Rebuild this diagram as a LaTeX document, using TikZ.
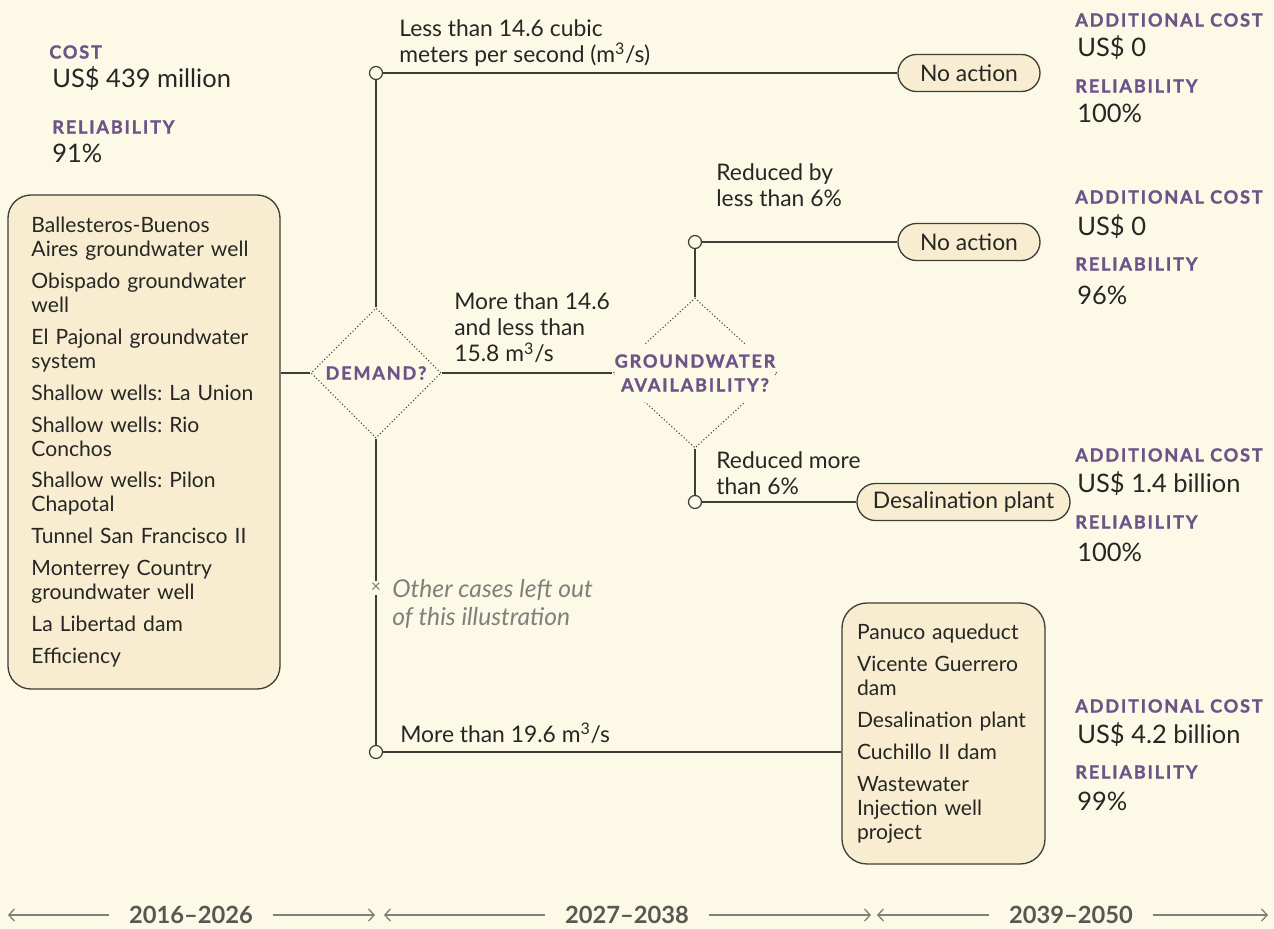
\documentclass[tikz,border=0pt]{standalone}
\usepackage{fontspec}
\setmainfont{Lato}
\newfontfamily\labelfamily{Lato}[LetterSpace=10, BoldFeatures={FakeBold=1.3}]
\usepackage{tikz}
\usetikzlibrary{shapes.geometric, arrows.meta, positioning}
\definecolor{cBg}{RGB}{253,249,231}
\definecolor{cBox}{RGB}{248,237,209}
\definecolor{cPurple}{RGB}{108,84,136}
\definecolor{cInk}{RGB}{38,38,36}
\definecolor{cLine}{RGB}{62,62,56}
\definecolor{cGrey}{RGB}{128,128,122}
\definecolor{cAxis}{RGB}{88,88,82}
\newcommand{\listsize}{\fontsize{12}{13.66}\selectfont}
\newcommand{\branchsize}{\fontsize{13}{14.75}\selectfont}
\newcommand{\notesize}{\fontsize{14}{15.9}\selectfont\itshape}
\newcommand{\valsize}{\fontsize{14.5}{16}\selectfont}
\newcommand{\capsize}{\labelfamily\bfseries\fontsize{10.3}{13.6}\selectfont}
\newcommand{\periodsize}{\bfseries\fontsize{13.5}{15}\selectfont}
\frenchspacing
\tikzset{
	listbox/.style={rectangle, rounded corners=4.6mm, draw=cLine, line width=0.75pt, fill=cBox, align=left, text=cInk, font=\listsize},
	pill/.style   ={rectangle, rounded corners=3.7mm, draw=cLine, line width=0.75pt, fill=cBox, minimum height=7.4mm, inner sep=0pt, text=cInk, font=\branchsize},
	ask/.style    ={diamond, draw=cLine, line width=0.6pt, dash pattern=on 0.6pt off 1.3pt, inner sep=0pt},
	asklbl/.style ={font=\capsize, text=cPurple, align=center, inner xsep=0pt, inner ysep=6pt},
	knot/.style   ={circle, draw=cLine, fill=cBg, line width=0.7pt, minimum size=2.6mm, inner sep=0pt},
	wire/.style   ={draw=cLine, line width=0.7pt},
	headlbl/.style={font=\capsize, text=cPurple, anchor=west, inner sep=0pt},
	val/.style    ={font=\valsize, text=cInk, anchor=west, inner sep=0pt},
	txt/.style    ={font=\branchsize, text=cInk, anchor=west, align=left, inner sep=0pt},
	note/.style   ={font=\notesize, text=cGrey, anchor=west, align=left, inner sep=0pt},
	period/.style ={font=\periodsize, text=cAxis, inner xsep=4mm, inner ysep=0pt},
	span/.style   ={-{Straight Barb[length=1.1mm, width=2.4mm]}, draw=cGrey, line width=0.75pt},
}
\begin{document}
\begin{tikzpicture}[x=0.2mm, y=-0.2mm]
	\fill[cBg] (0,0) rectangle (1274,929);
	% present system
	\node[headlbl] (cost) at (49,52) {COST};
	\node[val] (costv) at (52,79) {US\$ 439 million};
	\node[headlbl] (rel) at (52,127) {RELIABILITY};
	\node[val] (relv) at (52,153) {91\%};
	\node[listbox, text width=45mm, inner xsep=4.7mm, minimum height=98.8mm] (base) at (144,442)
	{Ballesteros-Buenos\\Aires groundwater well\\[4.5pt]
	 Obispado groundwater\\well\\[4.5pt]
	 El Pajonal groundwater\\system\\[4.5pt]
	 Shallow wells: La Union\\[4.5pt]
	 Shallow wells: Rio\\Conchos\\[4.5pt]
	 Shallow wells: Pilon\\Chapotal\\[4.5pt]
	 Tunnel San Francisco II\\[4.5pt]
	 Monterrey Country\\groundwater well\\[4.5pt]
	 La Libertad dam\\[4.5pt]
	 Efficiency};
	% decisions
	\node[ask, minimum width=26mm, minimum height=26mm] (demand) at (376,373) {};
	\node[asklbl] (demandlbl) at (demand) {DEMAND?};
	\node[ask, minimum width=32.8mm, minimum height=30mm] (gw) at (695,373) {};
	\node[asklbl, fill=cBg] (gwlbl) at (gw) {GROUNDWATER\\AVAILABILITY?};
	\node[knot] (c1) at (376,73) {};
	\node[knot] (c2) at (695,242) {};
	\node[knot] (c3) at (695,502) {};
	\node[knot] (c4) at (376,752) {};
	\node[inner sep=1pt, fill=cBg, text=cGrey, font=\fontsize{10}{12}\selectfont] (xm) at (376,588) {×};
	% outcomes
	\node[pill, minimum width=28.4mm] (na1) at (969,73) {No action};
	\node[pill, minimum width=28.4mm] (na2) at (969,242) {No action};
	\node[pill, minimum width=42.6mm] (desal) at (963.5,502) {Desalination plant};
	\node[listbox, text width=34.6mm, inner xsep=3mm, minimum height=52.2mm, rounded corners=5mm] (late) at (943.5,733.5)
	{Panuco aqueduct\\[4.5pt]
	 Vicente Guerrero\\dam\\[4.5pt]
	 Desalination plant\\[4.5pt]
	 Cuchillo II dam\\[4.5pt]
	 Wastewater\\Injection well\\project};
	% branch labels
	\node[txt] (lt) at (399,43) {Less than 14.6 cubic\\meters per second (m\textsuperscript{3}/s)};
	\node[txt] (mid) at (454,328) {More than 14.6\\and less than\\15.8 m\textsuperscript{3}/s};
	\node[txt] (rby) at (716,185) {Reduced by\\less than 6\%};
	\node[txt] (rmore) at (716,473) {Reduced more\\than 6\%};
	\node[txt] (gt) at (400,733) {More than 19.6 m\textsuperscript{3}/s};
	\node[note] (other) at (392,604) {Other cases left out\\of this illustration};
	% connectors
	\draw[wire] (demand.west) -- (demand.west -| base.east);
	\draw[wire] (demand.north) -- (c1.south);
	\draw[wire] (c1.east) -- (na1.west);
	\draw[wire] (demand.east) -- (gw.west);
	\draw[wire] (gw.north) -- (c2.south);
	\draw[wire] (c2.east) -- (na2.west);
	\draw[wire] (gw.south) -- (c3.north);
	\draw[wire] (c3.east) -- (desal.west);
	\draw[wire] (demand.south) -- (xm) -- (c4.north);
	\draw[wire] (c4.east) -- (c4.east -| late.west);
	% results
	\node[headlbl] (a1) at (1075,20) {ADDITIONAL COST};
	\node[val] (a1v) at (1077,48) {US\$ 0};
	\node[headlbl] (r1) at (1075,86) {RELIABILITY};
	\node[val] (r1v) at (1077,113) {100\%};
	\node[headlbl] (a2) at (1075,197) {ADDITIONAL COST};
	\node[val] (a2v) at (1077,227) {US\$ 0};
	\node[headlbl] (r2) at (1075,264) {RELIABILITY};
	\node[val] (r2v) at (1077,295) {96\%};
	\node[headlbl] (a3) at (1075,455) {ADDITIONAL COST};
	\node[val] (a3v) at (1077,484) {US\$ 1.4 billion};
	\node[headlbl] (r3) at (1075,522) {RELIABILITY};
	\node[val] (r3v) at (1077,552) {100\%};
	\node[headlbl] (a4) at (1075,706) {ADDITIONAL COST};
	\node[val] (a4v) at (1077,735) {US\$ 4.2 billion};
	\node[headlbl] (r4) at (1075,772) {RELIABILITY};
	\node[val] (r4v) at (1077,801) {99\%};
	% time axis
	\node[period] (p1) at (191,915) {2016–2026};
	\node[period] (p2) at (627,915) {2027–2038};
	\node[period] (p3) at (1071,915) {2039–2050};
	\coordinate (p1l) at (8,915);
	\coordinate (p1r) at (375,915);
	\coordinate (p2l) at (384,915);
	\coordinate (p2r) at (871,915);
	\coordinate (p3l) at (877,915);
	\coordinate (p3r) at (1268,915);
	\draw[span] (p1.west) -- (p1l);
	\draw[span] (p1.east) -- (p1r);
	\draw[span] (p2.west) -- (p2l);
	\draw[span] (p2.east) -- (p2r);
	\draw[span] (p3.west) -- (p3l);
	\draw[span] (p3.east) -- (p3r);
\end{tikzpicture}
\end{document}
